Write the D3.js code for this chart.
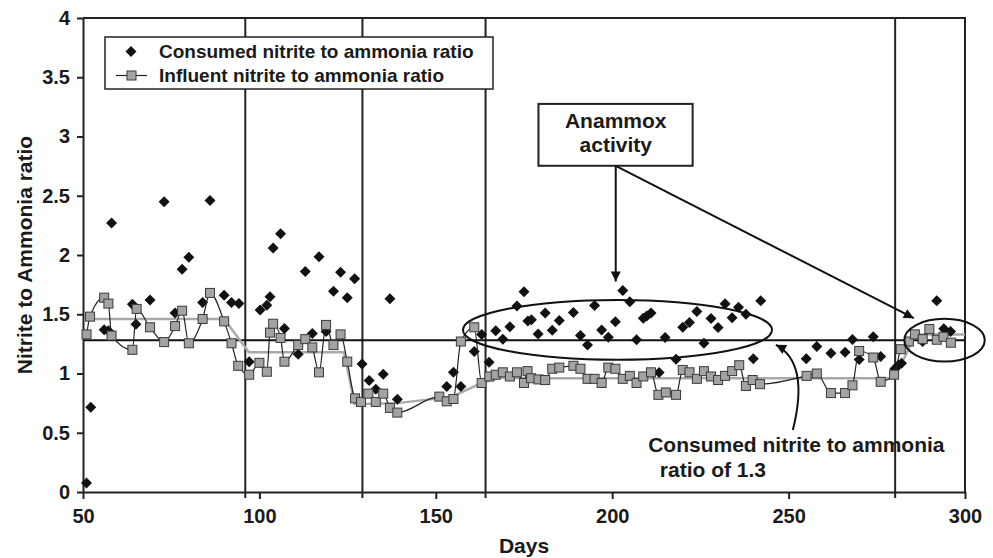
<!DOCTYPE html>
<html>
<head>
<meta charset="utf-8">
<script src="https://cdn.jsdelivr.net/npm/d3@7"></script>
<style>
  body { margin: 0; background: #fff; }
  text { font-family: "Liberation Sans", Arial, Helvetica, sans-serif; font-weight: bold; fill: #1a1a1a; }
</style>
</head>
<body>
<svg id="drawing_region"></svg>
<script>
// consumed nitrite to ammonia ratio (diamonds)
const consumedDays = [51, 52.2, 56, 57.2, 58.1, 64, 65, 69, 73, 76.1, 78.1, 80, 83.9, 86, 90, 92.1, 94.2,
    97.1, 100.2, 102.1, 103, 103.9, 106, 107.1, 111, 113, 115, 116.9, 118.9, 121, 123, 124.9, 127,
    129.1, 131.1, 133, 135.1, 137, 139.1, 153.1, 155, 157.1, 160.9, 163, 165.1, 167, 169, 171, 173,
    175, 176.1, 177.1, 179, 181, 183, 185, 189, 191, 193, 195, 197, 198.9, 200.9, 203, 205, 206.9,
    208.8, 209.8, 211, 213.3, 215, 218.1, 220, 221.9, 224, 226, 228, 230, 232, 234, 235.8, 237.9,
    240, 242.1, 255, 258, 262, 266, 268.1, 270, 274, 276.1, 280.1, 281.1, 282, 288, 292, 294, 295.9];
const consumedRatio = [0.075, 0.715, 1.37, 1.36, 2.27, 1.585, 1.415, 1.62, 2.45, 1.51, 1.88, 1.98, 1.60, 2.46, 1.66, 1.60, 1.59,
    1.10, 1.535, 1.575, 1.647, 2.06, 2.18, 1.38, 1.163, 1.86, 1.337, 1.985, 1.354, 1.695, 1.855, 1.64, 1.80,
    1.08, 0.94, 0.867, 0.994, 1.63, 0.783, 0.89, 1.011, 0.89, 1.185, 1.33, 1.095, 1.36, 1.29, 1.395, 1.57,
    1.69, 1.444, 1.453, 1.333, 1.51, 1.366, 1.447, 1.515, 1.32, 1.24, 1.573, 1.368, 1.306, 1.436, 1.70, 1.605, 1.284,
    1.467, 1.486, 1.51, 1.008, 1.303, 1.12, 1.39, 1.43, 1.523, 1.256, 1.464, 1.388, 1.588, 1.47, 1.56, 1.50,
    1.125, 1.613, 1.125, 1.228, 1.17, 1.18, 1.287, 1.118, 1.31, 1.143, 1.04, 1.07, 1.087, 1.27, 1.613, 1.378, 1.355];

// influent nitrite to ammonia ratio (squares)
const influentDays = [51, 52, 56, 57.2, 58.1, 64, 65.2, 69, 73, 76.1, 78.1, 80, 83.9, 86, 90, 92.1, 94,
    97.1, 100, 102.1, 103, 103.9, 106, 107.1, 111, 113, 115, 116.9, 118.9, 121, 123, 124.9, 127.1, 128.8,
    130.9, 133, 135.1, 137, 139.1, 151, 153.1, 155, 157.1, 160.9, 163, 165.2, 167, 169, 171, 173, 175,
    176, 177, 179.1, 181, 183, 185, 189, 191, 193, 195, 197, 198.9, 200.9, 203, 205, 206.9, 208.8, 211,
    213.1, 215.2, 218.1, 220, 221.9, 224, 226, 228, 230, 232, 234, 236, 237.9, 239.8, 241.9, 255.1, 258,
    262, 266, 268.1, 270, 274, 276.1, 279.9, 281.8, 284.1, 285.8, 288, 289.9, 292, 293.9, 296];
const influentRatio = [1.33, 1.48, 1.64, 1.59, 1.32, 1.20, 1.545, 1.39, 1.265, 1.40, 1.53, 1.255, 1.46, 1.68, 1.44, 1.255, 1.065,
    0.99, 1.09, 1.015, 1.345, 1.42, 1.30, 1.10, 1.24, 1.29, 1.22, 1.01, 1.41, 1.24, 1.33, 1.10, 0.79, 0.76,
    0.83, 0.76, 0.83, 0.71, 0.67, 0.805, 0.765, 0.785, 1.27, 1.39, 0.92, 0.975, 0.99, 1.01, 0.975, 1.01, 0.92,
    1.02, 0.96, 0.95, 0.945, 1.04, 1.05, 1.065, 1.04, 0.955, 0.955, 0.92, 1.05, 1.04, 0.955, 0.98, 0.92, 0.975, 1.01,
    0.82, 0.84, 0.82, 1.03, 1.01, 0.955, 1.02, 0.975, 0.945, 0.98, 1.02, 1.07, 0.895, 0.945, 0.91, 0.98, 1.00,
    0.835, 0.835, 0.90, 1.19, 1.135, 0.93, 0.99, 1.205, 1.27, 1.33, 1.29, 1.375, 1.285, 1.31, 1.26];

// mean influent ratio for each period (grey line)
const meanDays  = [51, 90, 97, 124, 127, 139, 151, 155, 163, 168, 175, 280, 286, 300];
const meanRatio = [1.46, 1.46, 1.18, 1.18, 0.74, 0.75, 0.79, 0.81, 0.92, 0.965, 0.96, 0.96, 1.33, 1.33];

const phaseDays = [96, 129.2, 164.1, 280.2];
const targetRatio = 1.28;

const xTicks = [50, 100, 150, 200, 250, 300];
const yTicks = [0, 0.5, 1, 1.5, 2, 2.5, 3, 3.5, 4];

class RatioChart {

    constructor( config ) {
        this.config = config;
        this.consumed = consumedDays.map( (d, i) => ({ x: d, y: consumedRatio[i] }) );
        this.influent = influentDays.map( (d, i) => ({ x: d, y: influentRatio[i] }) );
        this.mean = meanDays.map( (d, i) => ({ x: d, y: meanRatio[i] }) );
        this.init();
    }

    init() {
        let self = this;

        self.svg = d3.select( self.config.parent )
            .attr('width', self.config.width)
            .attr('height', self.config.height);

        const defs = self.svg.append('defs');
        defs.append('marker')
            .attr('id', 'head')
            .attr('viewBox', '0 -5 10 10')
            .attr('refX', 10)
            .attr('refY', 0)
            .attr('markerUnits', 'userSpaceOnUse')
            .attr('markerWidth', 11)
            .attr('markerHeight', 10)
            .attr('orient', 'auto')
            .append('path')
            .attr('d', 'M0,-5L10,0L0,5Z')
            .attr('fill', '#111');

        self.chart = self.svg.append('g')
            .attr('transform', `translate(${self.config.margin.left}, ${self.config.margin.top})`);

        self.inner_width = self.config.width - self.config.margin.left - self.config.margin.right;
        self.inner_height = self.config.height - self.config.margin.top - self.config.margin.bottom;

        self.xscale = d3.scaleLinear()
            .domain( [50, 300] )
            .range( [0, self.inner_width] );

        self.yscale = d3.scaleLinear()
            .domain( [0, 4] )
            .range( [self.inner_height, 0] );

        self.xaxis = d3.axisBottom( self.xscale )
            .tickValues( xTicks )
            .tickSize( 7 )
            .tickSizeOuter( 0 )
            .tickPadding( 10 );

        self.yaxis = d3.axisLeft( self.yscale )
            .tickValues( yTicks )
            .tickFormat( d3.format('') )
            .tickSize( 6 )
            .tickSizeOuter( 0 )
            .tickPadding( 7 );

        self.line = d3.line()
            .x( d => self.xscale( d.x ) )
            .y( d => self.yscale( d.y ) );
    }

    render() {
        let self = this;
        const xs = self.xscale, ys = self.yscale;

        // frame
        self.chart.append('path')
            .attr('d', `M0,0H${self.inner_width}V${self.inner_height}`)
            .attr('fill', 'none')
            .attr('stroke', '#222')
            .attr('stroke-width', 2);

        // period separators
        self.chart.selectAll('.phase')
            .data( phaseDays )
            .join('line')
            .attr('x1', d => xs(d)).attr('x2', d => xs(d))
            .attr('y1', 0).attr('y2', self.inner_height + 6)
            .attr('stroke', '#222')
            .attr('stroke-width', 2);

        // ratio 1.3 reference line
        self.chart.append('line')
            .attr('x1', 0).attr('x2', self.inner_width)
            .attr('y1', ys(targetRatio)).attr('y2', ys(targetRatio))
            .attr('stroke', '#111')
            .attr('stroke-width', 2);

        // axes
        const xg = self.chart.append('g')
            .attr('transform', `translate(0, ${self.inner_height})`)
            .call( self.xaxis );
        const yg = self.chart.append('g')
            .call( self.yaxis );
        [xg, yg].forEach( g => {
            g.select('.domain').attr('stroke', '#222').attr('stroke-width', 2);
            g.selectAll('.tick line').attr('stroke', '#222').attr('stroke-width', 2);
            g.selectAll('.tick text')
                .attr('font-size', 20)
                .attr('font-family', '"Liberation Sans", Arial, sans-serif')
                .attr('font-weight', 'bold')
                .attr('fill', '#1a1a1a');
        });

        // mean influent line
        self.chart.append('path')
            .attr('d', self.line( self.mean ))
            .attr('fill', 'none')
            .attr('stroke', '#a9a9a9')
            .attr('stroke-width', 2.5);

        // consumed ratio diamonds
        self.chart.selectAll('.consumed')
            .data( self.consumed )
            .join('path')
            .attr('class', 'consumed')
            .attr('transform', d => `translate(${xs(d.x)}, ${ys(d.y)})`)
            .attr('d', 'M0,-5.5L5.5,0L0,5.5L-5.5,0Z')
            .attr('fill', '#111');

        // influent line and squares
        self.chart.append('path')
            .attr('d', self.line.curve( d3.curveMonotoneX )( self.influent ))
            .attr('fill', 'none')
            .attr('stroke', '#222')
            .attr('stroke-width', 1.2);

        self.chart.selectAll('.influent')
            .data( self.influent )
            .join('rect')
            .attr('class', 'influent')
            .attr('x', d => xs(d.x) - 4.5)
            .attr('y', d => ys(d.y) - 4.5)
            .attr('width', 9)
            .attr('height', 9)
            .attr('fill', '#a3a3a3')
            .attr('stroke', '#3a3a3a')
            .attr('stroke-width', 1);

        // ellipses round the anammox points
        const ellipses = [
            { cx: 201.5, cy: 1.368, rx: 43.8, ry: 0.253 },
            { cx: 294.2, cy: 1.281, rx: 11.4, ry: 0.18 }
        ];
        self.chart.selectAll('.ring')
            .data( ellipses )
            .join('ellipse')
            .attr('cx', d => xs(d.cx))
            .attr('cy', d => ys(d.cy))
            .attr('rx', d => xs(d.cx + d.rx) - xs(d.cx))
            .attr('ry', d => ys(d.cy - d.ry) - ys(d.cy))
            .attr('fill', 'none')
            .attr('stroke', '#111')
            .attr('stroke-width', 2);

        // "Anammox activity" box and arrows
        const bx0 = xs(179.1), bx1 = xs(222.8), by0 = ys(3.275), by1 = ys(2.753);
        self.chart.append('rect')
            .attr('x', bx0).attr('y', by0)
            .attr('width', bx1 - bx0).attr('height', by1 - by0)
            .attr('fill', '#fff')
            .attr('stroke', '#222')
            .attr('stroke-width', 2);
        self.chart.append('text')
            .attr('x', xs(201)).attr('y', ys(3.275) + 24)
            .attr('text-anchor', 'middle')
            .attr('font-size', 21)
            .text('Anammox');
        self.chart.append('text')
            .attr('x', xs(201)).attr('y', ys(3.275) + 48)
            .attr('text-anchor', 'middle')
            .attr('font-size', 21)
            .text('activity');

        self.chart.append('line')
            .attr('x1', xs(201)).attr('y1', by1)
            .attr('x2', xs(201)).attr('y2', ys(1.776))
            .attr('stroke', '#111').attr('stroke-width', 2)
            .attr('marker-end', 'url(#head)');
        self.chart.append('line')
            .attr('x1', xs(201)).attr('y1', by1)
            .attr('x2', xs(285.5)).attr('y2', ys(1.467))
            .attr('stroke', '#111').attr('stroke-width', 2)
            .attr('marker-end', 'url(#head)');

        // curved arrow to the 1.3 line
        const curve = d3.path();
        curve.moveTo( xs(251.2), ys(0.524) );
        curve.quadraticCurveTo( xs(256), ys(1.09), xs(246.4), ys(1.242) );
        self.chart.append('path')
            .attr('d', curve.toString())
            .attr('fill', 'none')
            .attr('stroke', '#111').attr('stroke-width', 2)
            .attr('marker-end', 'url(#head)');

        self.chart.append('text')
            .attr('x', xs(210.2)).attr('y', ys(0.34))
            .attr('font-size', 21)
            .text('Consumed nitrite to ammonia');
        self.chart.append('text')
            .attr('x', xs(213.5)).attr('y', ys(0.124))
            .attr('font-size', 21)
            .text('ratio of 1.3');

        // axis titles
        self.svg.append('text')
            .attr('x', self.config.margin.left + self.inner_width / 2)
            .attr('y', self.config.height - 5)
            .attr('text-anchor', 'middle')
            .attr('font-size', 21)
            .text('Days');
        self.svg.append('text')
            .attr('transform', `translate(24, ${self.config.margin.top + self.inner_height / 2}) rotate(-90)`)
            .attr('text-anchor', 'middle')
            .attr('dominant-baseline', 'central')
            .attr('font-size', 21)
            .text('Nitrite to Ammonia ratio');

        // legend
        const legend = self.svg.append('g');
        legend.append('rect')
            .attr('x', 105).attr('y', 37)
            .attr('width', 388).attr('height', 52)
            .attr('fill', '#fff')
            .attr('stroke', '#222')
            .attr('stroke-width', 1.5);
        legend.append('path')
            .attr('transform', 'translate(131, 51.5)')
            .attr('d', 'M0,-5.5L5.5,0L0,5.5L-5.5,0Z')
            .attr('fill', '#111');
        legend.append('line')
            .attr('x1', 116).attr('x2', 147)
            .attr('y1', 75.5).attr('y2', 75.5)
            .attr('stroke', '#222').attr('stroke-width', 1.2);
        legend.append('rect')
            .attr('x', 127).attr('y', 71)
            .attr('width', 9).attr('height', 9)
            .attr('fill', '#a3a3a3')
            .attr('stroke', '#3a3a3a');
        legend.append('text')
            .attr('x', 159).attr('y', 58)
            .attr('font-size', 19)
            .text('Consumed nitrite to ammonia ratio');
        legend.append('text')
            .attr('x', 159).attr('y', 82)
            .attr('font-size', 19)
            .text('Influent nitrite to ammonia ratio');
    }
}

const config = {
    parent: '#drawing_region',
    width: 993,
    height: 558,
    margin: {top: 18, right: 28, bottom: 66, left: 83}
};

const ratio_chart = new RatioChart( config );
ratio_chart.render();
</script>
</body>
</html>
